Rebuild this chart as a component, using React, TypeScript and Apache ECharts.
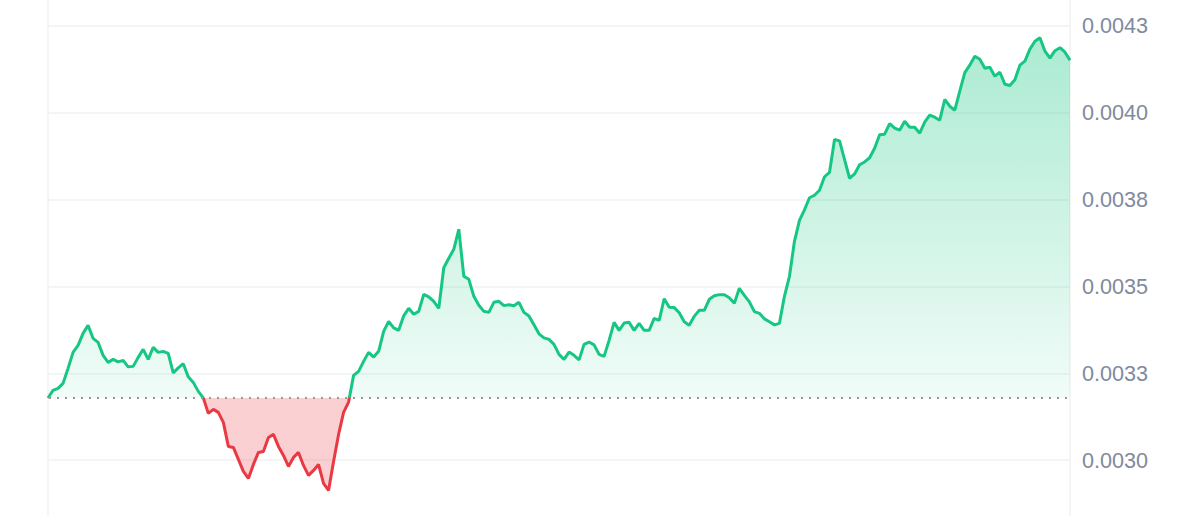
import React, { useEffect, useRef } from "react";
import * as echarts from "echarts";

const baseline = 0.003179;

const prices: number[] = [
  0.003179, 0.0032008, 0.0032066, 0.003221, 0.0032642, 0.0033102, 0.0033304, 0.003365, 0.003388, 0.0033506,
  0.003339, 0.0033016, 0.0032814, 0.0032901, 0.0032829, 0.0032872, 0.0032685, 0.0032699, 0.0032958, 0.0033189,
  0.0032901, 0.0033246, 0.0033102, 0.0033131, 0.0033074, 0.0032512, 0.0032656, 0.0032777, 0.0032397, 0.0032238,
  0.0031979, 0.0031792, 0.0031346, 0.0031461, 0.0031374, 0.0031086, 0.0030395, 0.0030366, 0.0030021, 0.0029675,
  0.0029474, 0.0029877, 0.0030222, 0.0030251, 0.0030654, 0.0030741, 0.0030395, 0.0030136, 0.0029819, 0.0030078,
  0.0030222, 0.0029848, 0.002956, 0.0029704, 0.0029877, 0.002933, 0.0029128, 0.0029963, 0.0030741, 0.0031374,
  0.0031671, 0.003244, 0.0032555, 0.0032843, 0.0033102, 0.0032967, 0.0033131, 0.0033707, 0.0033995, 0.0033808,
  0.0033736, 0.0034154, 0.003437, 0.0034197, 0.0034283, 0.0034773, 0.0034701, 0.0034571, 0.003437, 0.0035536,
  0.003581, 0.0036069, 0.0036645, 0.0035291, 0.0035205, 0.0034715, 0.0034456, 0.0034283, 0.0034254, 0.0034542,
  0.0034571, 0.0034447, 0.003447, 0.0034442, 0.0034542, 0.0034254, 0.0034148, 0.0033894, 0.0033635, 0.003352,
  0.0033477, 0.0033333, 0.0033045, 0.0032901, 0.0033111, 0.0033016, 0.0032886, 0.0033333, 0.0033399, 0.0033318,
  0.0033045, 0.0032987, 0.0033448, 0.0033966, 0.0033736, 0.0033946, 0.0033966, 0.0033736, 0.0033938, 0.0033736,
  0.0033736, 0.0034082, 0.0034024, 0.0034649, 0.0034398, 0.003439, 0.003424, 0.0033981, 0.003388, 0.0034139,
  0.0034312, 0.0034312, 0.0034629, 0.003473, 0.0034764, 0.0034758, 0.0034672, 0.0034514, 0.0034946, 0.0034744,
  0.0034557, 0.0034275, 0.0034226, 0.0034067, 0.0033981, 0.0033894, 0.0033938, 0.0034715, 0.0035291, 0.0036299,
  0.0036904, 0.0037206, 0.0037552, 0.0037624, 0.0037768, 0.0038157, 0.0038286, 0.0039228, 0.0039188, 0.0038652,
  0.0038114, 0.0038237, 0.0038502, 0.0038583, 0.0038704, 0.0038978, 0.0039366, 0.0039381, 0.0039683, 0.0039554,
  0.0039496, 0.0039755, 0.0039582, 0.0039582, 0.003941, 0.0039726, 0.0039928, 0.003987, 0.0039784, 0.004038,
  0.0040187, 0.0040072, 0.0040619, 0.0041152, 0.0041368, 0.0041627, 0.0041541, 0.0041282, 0.004131, 0.0041051,
  0.0041166, 0.0040821, 0.0040783, 0.004095, 0.0041368, 0.0041483, 0.0041829, 0.0042059, 0.004216, 0.0041771,
  0.004157, 0.0041786, 0.0041872, 0.0041742, 0.0041512,
];

const timeIndex: string[] = prices.map((_, i) => String(i));

const GREEN = "#16c784";
const RED = "#ea3943";
const GRID = "#eff2f5";

export default function App() {
  const ref = useRef<HTMLDivElement>(null);

  useEffect(() => {
    if (!ref.current) return;
    const chart = echarts.init(ref.current, null, { renderer: "svg" });

    chart.setOption({
      animation: false,
      grid: { left: 48, right: 130, top: 0, bottom: 0, containLabel: false },
      xAxis: {
        type: "category",
        data: timeIndex,
        boundaryGap: false,
        axisLine: { show: false },
        axisTick: { show: false },
        axisLabel: { show: false },
        splitLine: {
          show: true,
          interval: (index: number) => index === 0,
          lineStyle: { color: GRID, width: 1.5 },
        },
      },
      yAxis: {
        type: "value",
        position: "right",
        min: 0.00275,
        max: 0.0045,
        interval: 0.00025,
        axisLine: { show: true, lineStyle: { color: GRID, width: 1.5 } },
        axisTick: { show: false },
        splitLine: { show: true, lineStyle: { color: GRID, width: 1.5 } },
        axisLabel: {
          showMinLabel: false,
          showMaxLabel: false,
          margin: 12,
          color: "#808a9d",
          fontSize: 21.6,
          fontFamily: "'Liberation Sans', Arial, sans-serif",
          formatter: (v: number) => {
            const n = Math.round(Math.round(v * 1e5) / 10);
            return (n / 10000).toFixed(4);
          },
        },
      },
      series: [
        {
          type: "line",
          data: prices,
          symbol: "none",
          z: 2,
          lineStyle: { width: 3, color: GREEN },
          areaStyle: { origin: baseline, color: "rgba(22,199,132,0.2)", opacity: 1 },
        },
      ],
    });

    const yTop = chart.convertToPixel({ yAxisIndex: 0 }, Math.max(...prices)) as number;
    const yBot = chart.convertToPixel({ yAxisIndex: 0 }, Math.min(...prices)) as number;
    const yBase = chart.convertToPixel({ yAxisIndex: 0 }, baseline) as number;
    const xStart = chart.convertToPixel({ xAxisIndex: 0 }, timeIndex[0]) as number;
    const xEnd = chart.convertToPixel({ xAxisIndex: 0 }, timeIndex[timeIndex.length - 1]) as number;
    const f = Math.min(1, Math.max(0, (yBase - yTop) / (yBot - yTop)));

    const lineGrad = new echarts.graphic.LinearGradient(
      0, yTop, 0, yBot,
      [
        { offset: 0, color: GREEN },
        { offset: f, color: GREEN },
        { offset: f, color: RED },
        { offset: 1, color: RED },
      ],
      true
    );
    const areaGrad = new echarts.graphic.LinearGradient(
      0, yTop, 0, yBot,
      [
        { offset: 0, color: "rgba(22,199,132,0.36)" },
        { offset: f, color: "rgba(22,199,132,0.06)" },
        { offset: f, color: "rgba(234,57,67,0.24)" },
        { offset: 1, color: "rgba(234,57,67,0.24)" },
      ],
      true
    );

    chart.setOption({
      graphic: [
        {
          type: "line",
          silent: true,
          z: 10,
          shape: { x1: xStart + 1, y1: yBase, x2: xEnd - 1, y2: yBase },
          style: { stroke: "#999999", lineWidth: 2, lineDash: [2, 6] },
        },
      ],
      series: [
        {
          lineStyle: { width: 3, color: lineGrad },
          areaStyle: { origin: baseline, color: areaGrad, opacity: 1 },
        },
      ],
    });

    return () => chart.dispose();
  }, []);

  return (
    <div
      style={{ position: "absolute", left: 0, top: 0, width: 1200, height: 516, overflow: "hidden", background: "#fff" }}
    >
      <div
        ref={ref}
        style={{ position: "absolute", left: 0, top: -61.1, width: 1200, height: 607.6 }}
      />
    </div>
  );
}
